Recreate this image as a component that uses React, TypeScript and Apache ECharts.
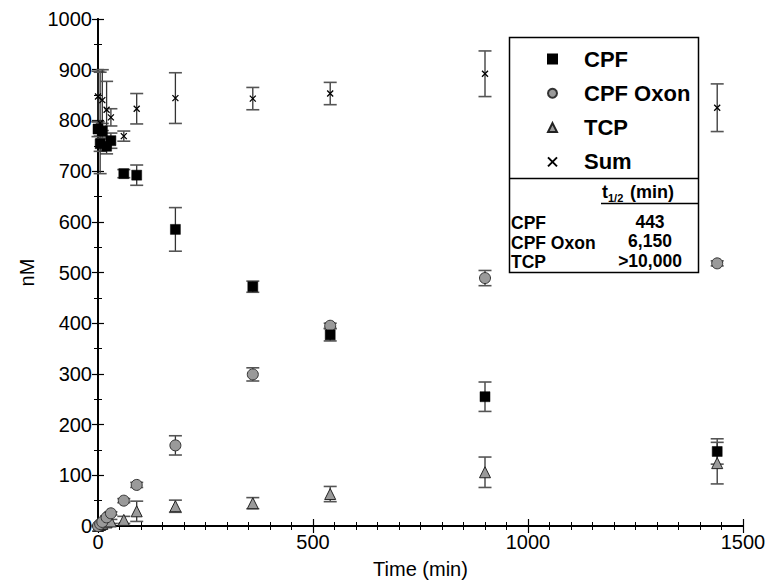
import React, { useEffect, useRef } from "react";
import * as echarts from "echarts";

const times = [0, 5, 10, 20, 30, 60, 90, 180, 360, 540, 900, 1440];
const cpf = [783, 754, 779, 749, 760, 695, 692, 585, 472, 377, 255, 147];
const cpfErr = [15, 15, 15, 15, 15, 8, 20, 43, 11, 12, 29, 25];
const oxon = [0, 4, 8, 17, 25, 50, 81, 159, 299, 395, 489, 518];
const oxonErr = [1, 2, 3, 3, 3, 4, 5, 19, 13, 5, 15, 5];
const tcp = [0, 2, 4, 7, 9, 12, 29, 39, 45, 63, 106, 124];
const tcpErr = [1, 2, 3, 3, 4, 7, 20, 12, 11, 15, 30, 41];
const sum = [847, 795, 840, 821, 806, 769, 823, 844, 843, 853, 892, 825];
const sumErr = [50, 100, 60, 56, 17, 10, 30, 50, 22, 22, 45, 47];
const xTicks = [0, 500, 1000, 1500];
const yTicks = [0, 100, 200, 300, 400, 500, 600, 700, 800, 900, 1000];
const tableRows = ["CPF", "CPF Oxon", "TCP"];
const halfLives = ["443", "6,150", ">10,000"];

const FONT = "'Liberation Sans', Arial, Helvetica, sans-serif";
const CROSS = "path://M0,0L10,10M10,0L0,10";

function errData(vals: number[], errs: number[]) {
  return times.map((t, i) => [t, vals[i] - errs[i], vals[i] + errs[i]]);
}

function errSeries(name: string, vals: number[], errs: number[]) {
  return {
    type: "custom",
    name,
    z: 1,
    clip: false,
    data: errData(vals, errs),
    encode: { x: 0, y: [1, 2] },
    renderItem: (params: any, api: any) => {
      const x = api.value(0);
      const lo = api.coord([x, api.value(1)]);
      const hi = api.coord([x, api.value(2)]);
      const hw = 6.5;
      return {
        type: "group",
        children: [
          { type: "line", shape: { x1: lo[0], y1: lo[1], x2: hi[0], y2: hi[1] }, style: { stroke: "#333", lineWidth: 1.3 } },
          { type: "line", shape: { x1: lo[0] - hw, y1: lo[1], x2: lo[0] + hw, y2: lo[1] }, style: { stroke: "#555", lineWidth: 1.6 } },
          { type: "line", shape: { x1: hi[0] - hw, y1: hi[1], x2: hi[0] + hw, y2: hi[1] }, style: { stroke: "#555", lineWidth: 1.6 } },
        ],
      };
    },
  };
}

function pts(vals: number[]) {
  return times.map((t, i) => [t, vals[i]]);
}

export default function App() {
  const ref = useRef<HTMLDivElement>(null);
  useEffect(() => {
    if (!ref.current) return;
    document.body.style.margin = "0";
    const chart = echarts.init(ref.current, undefined, { renderer: "svg" });
    const axisLine = { show: true, lineStyle: { color: "#000", width: 1.8 } };
    const option: any = {
      animation: false,
      backgroundColor: "#fff",
      textStyle: { fontFamily: FONT },
      grid: { left: 98, right: 27, top: 19, bottom: 56 },
      xAxis: [
        {
          type: "value",
          min: 0,
          max: 1500,
          interval: 500,
          position: "bottom",
          name: "Time (min)",
          nameLocation: "middle",
          nameGap: 33,
          nameTextStyle: { fontSize: 20, color: "#000", fontFamily: FONT },
          axisLine,
          axisTick: { show: true, inside: true, length: 7, lineStyle: { color: "#000", width: 1.2 } },
          minorTick: { show: true, splitNumber: 10, length: 4, lineStyle: { color: "#000", width: 1 } },
          axisLabel: {
            fontSize: 20,
            color: "#000",
            fontFamily: FONT,
            margin: 6,
            formatter: (v: number) => (xTicks.includes(v) ? String(v) : ""),
          },
          splitLine: { show: false },
        },
        {
          type: "value",
          min: 0,
          max: 1500,
          interval: 500,
          position: "top",
          axisLine,
          axisTick: { show: true, inside: true, length: 7, lineStyle: { color: "#000", width: 1.2 } },
          minorTick: { show: true, splitNumber: 10, length: 4, lineStyle: { color: "#000", width: 1 } },
          axisLabel: { show: false },
          splitLine: { show: false },
        },
      ],
      yAxis: [
        {
          type: "value",
          min: 0,
          max: 1000,
          interval: 100,
          position: "left",
          name: "nM",
          nameLocation: "middle",
          nameGap: 53,
          nameTextStyle: { fontSize: 20, color: "#000", fontFamily: FONT },
          axisLine,
          axisTick: { show: true, inside: true, length: 6, lineStyle: { color: "#000", width: 1.2 } },
          minorTick: { show: true, splitNumber: 2, length: 4, lineStyle: { color: "#000", width: 1 } },
          axisLabel: {
            fontSize: 20,
            color: "#000",
            fontFamily: FONT,
            margin: 6,
            formatter: (v: number) => (yTicks.includes(v) ? String(v) : ""),
          },
          splitLine: { show: false },
        },
        {
          type: "value",
          min: 0,
          max: 1000,
          interval: 100,
          position: "right",
          axisLine,
          axisTick: { show: true, inside: true, length: 6, lineStyle: { color: "#000", width: 1.2 } },
          minorTick: { show: true, splitNumber: 2, length: 4, lineStyle: { color: "#000", width: 1 } },
          axisLabel: { show: false },
          splitLine: { show: false },
        },
      ],
      legend: {
        show: true,
        orient: "vertical",
        left: 542,
        top: 43,
        itemWidth: 9,
        itemHeight: 9,
        itemGap: 12.3,
        selectedMode: false,
        data: ["CPF", "CPF Oxon", "TCP", "Sum"],
        textStyle: {
          fontSize: 22,
          fontWeight: "bold",
          color: "#000",
          fontFamily: FONT,
          lineHeight: 22,
          padding: [0, 0, 0, 22],
        },
        z: 10,
      },
      graphic: [
        {
          type: "rect",
          z: 0,
          shape: { x: 509.5, y: 37.5, width: 189, height: 235 },
          style: { fill: "#fff", stroke: "#000", lineWidth: 1.5 },
        },
        {
          type: "line",
          z: 1,
          shape: { x1: 509.5, y1: 178.5, x2: 698.5, y2: 178.5 },
          style: { stroke: "#000", lineWidth: 1.5 },
        },
        {
          type: "line",
          z: 1,
          shape: { x1: 601, y1: 203.5, x2: 698.5, y2: 203.5 },
          style: { stroke: "#000", lineWidth: 1.5 },
        },
        {
          type: "text",
          z: 2,
          x: 602,
          y: 201,
          style: { text: "t", font: `bold 18px ${FONT}`, fill: "#000", textVerticalAlign: "bottom", textAlign: "left" },
        },
        {
          type: "text",
          z: 2,
          x: 608,
          y: 203,
          style: { text: "1/2", font: `bold 11px ${FONT}`, fill: "#000", textVerticalAlign: "bottom", textAlign: "left" },
        },
        {
          type: "text",
          z: 2,
          x: 630,
          y: 201,
          style: { text: "(min)", font: `bold 18px ${FONT}`, fill: "#000", textVerticalAlign: "bottom", textAlign: "left" },
        },
        ...tableRows.map((r, i) => ({
          type: "text",
          z: 2,
          x: 511,
          y: 223 + i * 19.5,
          style: { text: r, font: `bold 17.5px ${FONT}`, fill: "#000", textVerticalAlign: "middle", textAlign: "left" },
        })),
        ...halfLives.map((r, i) => ({
          type: "text",
          z: 2,
          x: 650,
          y: 221.5 + i * 19.5,
          style: { text: r, font: `bold 17.5px ${FONT}`, fill: "#000", textVerticalAlign: "middle", textAlign: "center" },
        })),
      ],
      series: [
        errSeries("CPF err", cpf, cpfErr),
        errSeries("CPF Oxon err", oxon, oxonErr),
        errSeries("TCP err", tcp, tcpErr),
        errSeries("Sum err", sum, sumErr),
        {
          type: "scatter",
          name: "Sum",
          z: 3,
          symbol: CROSS,
          symbolSize: 6,
          data: pts(sum),
          itemStyle: { color: "#000", borderColor: "#000", borderWidth: 1.3, opacity: 1 },
        },
        {
          type: "scatter",
          name: "TCP",
          z: 4,
          symbol: "triangle",
          symbolSize: 11,
          data: pts(tcp),
          itemStyle: { color: "#9a9a9a", borderColor: "#222", borderWidth: 1, opacity: 1 },
        },
        {
          type: "scatter",
          name: "CPF Oxon",
          z: 5,
          symbol: "circle",
          symbolSize: 11,
          data: pts(oxon),
          itemStyle: { color: "#9a9a9a", borderColor: "#333", borderWidth: 1, opacity: 1 },
        },
        {
          type: "scatter",
          name: "CPF",
          z: 6,
          symbol: "rect",
          symbolSize: 10,
          data: pts(cpf),
          itemStyle: { color: "#000", borderColor: "#000", borderWidth: 0.5, opacity: 1 },
        },
      ],
    };
    chart.setOption(option);
    return () => chart.dispose();
  }, []);
  return <div ref={ref} style={{ width: 770, height: 584 }} />;
}
